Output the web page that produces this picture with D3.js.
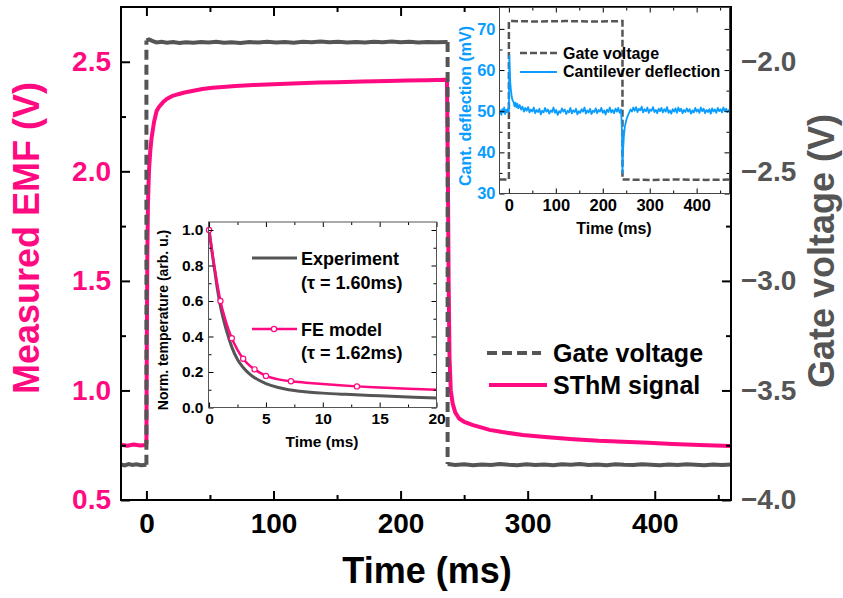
<!DOCTYPE html>
<html>
<head>
<meta charset="utf-8">
<script src="https://cdn.jsdelivr.net/npm/d3@7"></script>
<style>
  body { margin: 0; background: #fff; }
  svg { font-family: "Liberation Sans", Arial, sans-serif; font-weight: bold; }
</style>
</head>
<body>
<svg id="chart" width="843" height="598"></svg>
<script>
// ---- main panel: SThM signal (V) and gate voltage (V) vs time (ms)
const sthmSignal = [
  [-20, 0.752], [-15, 0.748], [-10, 0.753], [-5, 0.749], [-0.3, 0.751],
  [0, 0.76], [0.3, 1.2], [0.7, 1.6], [1.2, 1.85], [2, 2.0], [3, 2.09], [4, 2.15],
  [6, 2.225], [8, 2.275], [10, 2.295], [13, 2.315], [16, 2.33], [20, 2.343],
  [25, 2.352], [30, 2.36], [36, 2.367], [44, 2.376], [52, 2.381], [60, 2.385],
  [70, 2.389], [84, 2.394], [100, 2.398], [115, 2.401], [136, 2.405], [150, 2.407],
  [170, 2.41], [190, 2.412], [205, 2.414], [220, 2.416], [236.5, 2.418],
  [237.2, 2.0], [237.8, 1.5], [238.5, 1.15], [239.5, 1.0], [241, 0.94], [243, 0.9],
  [246, 0.872], [250, 0.857], [257, 0.842], [264, 0.83], [270, 0.82], [280, 0.81],
  [296, 0.797], [316, 0.786], [336, 0.777], [356, 0.77], [375, 0.766], [395, 0.761],
  [414, 0.756], [435, 0.751], [460, 0.746]
];
const gateMain = [
  [-20, -3.838], [-17, -3.842], [-14, -3.836], [-11, -3.840], [-8, -3.837], [-4, -3.841], [0, -3.839],
  [0, -1.903], [2, -1.898], [5, -1.906], [8, -1.912], [12, -1.909], [16, -1.913], [21, -1.910],
  [26, -1.914], [31, -1.911], [37, -1.913], [43, -1.910], [49, -1.912], [55, -1.909], [61, -1.913],
  [67, -1.911], [74, -1.914], [81, -1.910], [88, -1.912], [95, -1.909], [102, -1.912], [109, -1.910],
  [116, -1.913], [123, -1.909], [130, -1.911], [137, -1.908], [144, -1.911], [151, -1.909], [158, -1.912],
  [165, -1.910], [172, -1.912], [179, -1.909], [186, -1.911], [193, -1.908], [200, -1.911], [207, -1.909],
  [214, -1.912], [221, -1.910], [228, -1.911], [237, -1.910],
  [237, -3.836], [243, -3.840], [250, -3.837], [257, -3.841], [264, -3.838], [271, -3.840], [278, -3.836],
  [285, -3.839], [292, -3.841], [299, -3.837], [306, -3.840], [313, -3.838], [320, -3.841], [327, -3.837],
  [334, -3.839], [341, -3.836], [348, -3.840], [355, -3.838], [362, -3.841], [369, -3.837], [376, -3.839],
  [383, -3.840], [390, -3.837], [397, -3.839], [404, -3.841], [411, -3.838], [418, -3.840], [425, -3.837],
  [432, -3.839], [439, -3.841], [446, -3.838], [453, -3.840], [460, -3.838]
];
const timeTicks = [0, 100, 200, 300, 400];
const timeMinor = [50, 150, 250, 350, 450];
const emfTicks = [0.5, 1.0, 1.5, 2.0, 2.5];
const emfMinor = [0.75, 1.25, 1.75, 2.25];
const gateTicks = [-4.0, -3.5, -3.0, -2.5, -2.0];
const gateMinor = [-3.75, -3.25, -2.75, -2.25];
const mainLegend = ['Gate voltage', 'SThM signal'];

// ---- inset 1: normalized temperature decay
const experiment = [
  [0, 1.0], [0.25, 0.88], [0.5, 0.77], [0.75, 0.66], [1, 0.57], [1.5, 0.44], [2, 0.34],
  [2.5, 0.27], [3, 0.225], [3.5, 0.192], [4, 0.168], [5, 0.135], [6, 0.114], [7, 0.1],
  [8, 0.092], [10, 0.081], [12, 0.074], [15, 0.066], [18, 0.058], [20, 0.053]
];
const feModel = [
  [0, 1.0], [0.5, 0.78], [1, 0.6], [1.5, 0.48], [2, 0.39], [2.5, 0.325], [3, 0.275],
  [3.5, 0.24], [4, 0.215], [4.5, 0.195], [5, 0.178], [6, 0.16], [7.2, 0.148], [8.5, 0.14],
  [10, 0.132], [11.5, 0.125], [13, 0.119], [15, 0.113], [17.5, 0.106], [20, 0.1]
];
const feMarkers = [[0, 1.0], [1, 0.6], [2, 0.39], [3, 0.275], [4, 0.215], [5, 0.178], [7.2, 0.148], [13, 0.119]];
const decayTicks = [0, 5, 10, 15, 20];
const decayMinor = [2.5, 7.5, 12.5, 17.5];
const normTicks = [0, 0.2, 0.4, 0.6, 0.8, 1.0];
const normMinor = [0.1, 0.3, 0.5, 0.7, 0.9];
const decayLegend = ['Experiment', '(\u03c4 = 1.60ms)', 'FE model', '(\u03c4 = 1.62ms)'];

// ---- inset 2: cantilever deflection (mV)
const deflection = [
  [-20, 49.4], [-18, 50.2], [-16, 49.1], [-14, 50.5], [-12, 49.7], [-10, 50.9], [-8, 49.3], [-6, 50.3],
  [-4, 49.8], [-2, 50.6], [0, 49.9],
  [0.5, 58], [1, 63.5], [2, 60], [3, 57], [4, 55.5], [6, 53.5], [8, 52.6], [10, 52.2],
  [12, 51.2], [14, 52.1], [16, 51.0], [18, 51.8], [20, 50.7], [23, 51.5], [26, 50.4], [29, 51.1],
  [32, 49.9], [35, 50.8], [38, 50.1], [41, 51.0], [44, 49.7], [47, 50.4], [50, 49.9], [53, 50.9],
  [56, 49.5], [59, 50.3], [62, 49.8], [65, 50.6], [68, 49.2], [71, 50.1], [74, 49.7], [77, 50.8],
  [80, 49.9], [83, 50.4], [86, 49.4], [89, 50.2], [92, 49.8], [95, 50.9], [98, 49.6], [101, 50.3],
  [104, 49.1], [107, 50.0], [110, 49.6], [113, 50.7], [116, 49.9], [119, 50.4], [122, 49.3], [125, 50.1],
  [128, 49.7], [131, 50.8], [134, 49.5], [137, 50.2], [140, 49.8], [143, 50.6], [146, 49.2], [149, 50.0],
  [152, 49.6], [155, 50.5], [158, 49.9], [161, 50.9], [164, 49.4], [167, 50.2], [170, 49.7], [173, 50.6],
  [176, 49.3], [179, 50.1], [182, 49.8], [185, 50.7], [188, 49.5], [191, 50.3], [194, 49.9], [197, 50.8],
  [200, 49.6], [203, 50.2], [206, 49.2], [209, 50.4], [212, 49.8], [215, 50.9], [218, 49.7], [221, 50.3],
  [224, 49.5], [227, 50.6], [230, 49.9], [233, 50.8], [236, 49.6], [239, 50.4], [241, 45], [242, 35],
  [243, 40], [245, 44], [247, 46.2], [250, 47.8], [253, 48.8], [256, 49.6], [259, 50.4], [262, 49.9],
  [265, 50.9], [268, 50.1], [271, 51.0], [274, 49.8], [277, 50.6], [280, 50.2], [283, 51.1], [286, 49.7],
  [289, 50.5], [292, 50.0], [295, 50.9], [298, 49.6], [301, 50.4], [304, 50.1], [307, 51.0], [310, 49.8],
  [313, 50.3], [316, 49.5], [319, 50.6], [322, 50.0], [325, 50.8], [328, 49.7], [331, 50.5], [334, 49.9],
  [337, 51.0], [340, 49.6], [343, 50.2], [346, 49.4], [349, 50.5], [352, 49.9], [355, 50.7], [358, 49.6],
  [361, 50.9], [364, 50.0], [367, 50.6], [370, 49.5], [373, 50.3], [376, 49.8], [379, 50.7], [382, 49.9],
  [385, 50.5], [388, 49.4], [391, 50.2], [394, 49.7], [397, 50.8], [400, 49.9], [403, 50.4], [406, 49.6],
  [409, 50.9], [412, 50.0], [415, 50.6], [418, 49.5], [421, 50.3], [424, 49.8], [427, 50.5], [430, 49.4],
  [433, 50.7], [436, 49.9], [439, 50.4], [442, 49.6], [445, 50.8], [448, 50.0], [451, 50.5], [454, 49.7],
  [457, 50.9], [460, 50.1], [463, 50.6], [466, 49.8], [470, 50.5]
];
const gateInset = [
  [-20, 33.4], [0, 33.4], [0, 71.9], [60, 71.8], [120, 71.9], [180, 71.8], [242, 71.9],
  [242, 33.4], [300, 33.3], [360, 33.4], [420, 33.3], [470, 33.4]
];
const cantTimeTicks = [0, 100, 200, 300, 400];
const cantTimeMinor = [50, 150, 250, 350, 450];
const cantTicks = [30, 40, 50, 60, 70];
const cantMinor = [35, 45, 55, 65];
const cantLegend = ['Gate voltage', 'Cantilever deflection'];

const pink = '#ff0a80', gray = '#555555', blue = '#0a9dff';
const svg = d3.select('#chart');

// draws inward ticks (major with labels, minor without) on one side
const addAxis = (g, axisFn, scale, pos, major, minor, o) => {
    let a = g.append('g').attr('transform', pos)
        .call(axisFn(scale).tickValues(major).tickSize(-o.major).tickPadding(o.pad)
            .tickFormat(o.fmt ? o.fmt : ''));
    a.select('.domain').remove();
    a.selectAll('line').attr('stroke', '#000').attr('stroke-width', o.sw);
    a.selectAll('text').attr('fill', o.color).style('font-size', o.fs + 'px');
    let m = g.append('g').attr('transform', pos)
        .call(axisFn(scale).tickValues(minor).tickSize(-o.minor).tickFormat(''));
    m.select('.domain').remove();
    m.selectAll('line').attr('stroke', '#000').attr('stroke-width', o.sw);
}

const drawFrame = (g, b, sw, color) => {
    g.append('rect')
        .attr('x', b.left).attr('y', b.top)
        .attr('width', b.right - b.left).attr('height', b.bottom - b.top)
        .attr('fill', 'none').attr('stroke', color).attr('stroke-width', sw);
}

// splits a step signal into flat runs (solid) and jumps (dashed)
const splitSteps = (data, jump) => {
    let flat = [], steps = [], run = [data[0]];
    for (let i = 1; i < data.length; i++) {
        if (Math.abs(data[i][1] - data[i - 1][1]) > jump) {
            flat.push(run);
            steps.push([data[i - 1], data[i]]);
            run = [data[i]];
        } else run.push(data[i]);
    }
    flat.push(run);
    return { flat, steps };
}

// ================= main panel
let mb = { left: 121, top: 7, right: 731, bottom: 500 };
let x = d3.scaleLinear().domain([-20, 460]).range([mb.left, mb.right]);
let yL = d3.scaleLinear().domain([0.5, 2.75]).range([mb.bottom, mb.top]);
let yR = d3.scaleLinear().domain([-4.0, -1.75]).range([mb.bottom, mb.top]);
let g = svg.append('g');

g.append('path')
    .datum(sthmSignal)
    .attr('fill', 'none').attr('stroke', pink).attr('stroke-width', 4)
    .attr('stroke-linejoin', 'round')
    .attr('d', d3.line().x(d => x(d[0])).y(d => yL(d[1])));

let gateLine = d3.line().x(d => x(d[0])).y(d => yR(d[1]));
let gs = splitSteps(gateMain, 0.5);
gs.flat.forEach(run => {
    g.append('path').datum(run)
        .attr('fill', 'none').attr('stroke', gray).attr('stroke-width', 4)
        .attr('d', gateLine);
});
gs.steps.forEach(st => {
    g.append('path').datum(st)
        .attr('fill', 'none').attr('stroke', gray).attr('stroke-width', 4)
        .attr('stroke-dasharray', '10,5')
        .attr('d', gateLine);
});

addAxis(g, d3.axisBottom, x, 'translate(0,' + mb.bottom + ')', timeTicks, timeMinor,
    { major: 9, minor: 5, pad: 13, sw: 2, fs: 28, color: '#000', fmt: d3.format('d') });
addAxis(g, d3.axisTop, x, 'translate(0,' + mb.top + ')', timeTicks, timeMinor,
    { major: 9, minor: 5, pad: 0, sw: 2, fs: 28, color: '#000' });
addAxis(g, d3.axisLeft, yL, 'translate(' + mb.left + ',0)', emfTicks, emfMinor,
    { major: 9, minor: 5, pad: 10, sw: 2, fs: 28, color: pink, fmt: d3.format('.1f') });
addAxis(g, d3.axisRight, yR, 'translate(' + mb.right + ',0)', gateTicks, gateMinor,
    { major: 9, minor: 5, pad: 10, sw: 2, fs: 28, color: gray, fmt: d3.format('.1f') });
drawFrame(g, mb, 2, '#000');

g.append('text')
    .attr('transform', 'translate(' + ((mb.left + mb.right) / 2 + 1) + ',583)')
    .attr('text-anchor', 'middle').attr('fill', '#000').style('font-size', '36px')
    .text('Time (ms)');
g.append('text')
    .attr('transform', 'translate(39,238) rotate(-90)')
    .attr('text-anchor', 'middle').attr('fill', pink).style('font-size', '36px')
    .text('Measured EMF (V)');
g.append('text')
    .attr('transform', 'translate(834,251) rotate(-90)')
    .attr('text-anchor', 'middle').attr('fill', gray).style('font-size', '36px')
    .text('Gate voltage (V)');

// main legend
g.append('line')
    .attr('x1', 487).attr('x2', 541).attr('y1', 353).attr('y2', 353)
    .attr('stroke', gray).attr('stroke-width', 4).attr('stroke-dasharray', '10,5');
g.append('line')
    .attr('x1', 489).attr('x2', 547).attr('y1', 385).attr('y2', 385)
    .attr('stroke', pink).attr('stroke-width', 4);
g.selectAll('.mleg').data(mainLegend).enter().append('text')
    .attr('x', 553).attr('y', (d, i) => i == 0 ? 362 : 394)
    .attr('fill', '#000').style('font-size', '25px')
    .text(d => d);

// ================= inset 1 (decay)
let ib = { left: 208.5, top: 222, right: 436.5, bottom: 407.5 };
let x1 = d3.scaleLinear().domain([-0.05, 20]).range([ib.left, ib.right]);
let y1 = d3.scaleLinear().domain([0, 1.045]).range([ib.bottom, ib.top]);
let g1 = svg.append('g');
g1.append('rect')
    .attr('x', ib.left).attr('y', ib.top)
    .attr('width', ib.right - ib.left).attr('height', ib.bottom - ib.top)
    .attr('fill', '#fff');

g1.append('path')
    .datum(experiment)
    .attr('fill', 'none').attr('stroke', gray).attr('stroke-width', 3)
    .attr('d', d3.line().curve(d3.curveMonotoneX).x(d => x1(d[0])).y(d => y1(d[1])));
g1.append('path')
    .datum(feModel)
    .attr('fill', 'none').attr('stroke', pink).attr('stroke-width', 2.5)
    .attr('d', d3.line().curve(d3.curveMonotoneX).x(d => x1(d[0])).y(d => y1(d[1])));
g1.selectAll('.fem').data(feMarkers).enter().append('circle')
    .attr('cx', d => x1(d[0])).attr('cy', d => y1(d[1])).attr('r', 2.6)
    .attr('fill', '#fff').attr('stroke', pink).attr('stroke-width', 1.2);

addAxis(g1, d3.axisBottom, x1, 'translate(0,' + ib.bottom + ')', decayTicks, decayMinor,
    { major: 5, minor: 3, pad: 5, sw: 1, fs: 15.5, color: '#000', fmt: d3.format('d') });
addAxis(g1, d3.axisTop, x1, 'translate(0,' + ib.top + ')', decayTicks, decayMinor,
    { major: 5, minor: 3, pad: 0, sw: 1, fs: 15.5, color: '#000' });
addAxis(g1, d3.axisLeft, y1, 'translate(' + ib.left + ',0)', normTicks, normMinor,
    { major: 5, minor: 3, pad: 5, sw: 1, fs: 15.5, color: '#000', fmt: d3.format('.1f') });
addAxis(g1, d3.axisRight, y1, 'translate(' + ib.right + ',0)', normTicks, normMinor,
    { major: 5, minor: 3, pad: 0, sw: 1, fs: 15.5, color: '#000' });
drawFrame(g1, ib, 1, '#555');

g1.append('text')
    .attr('transform', 'translate(322,447)')
    .attr('text-anchor', 'middle').attr('fill', '#000').style('font-size', '15.5px')
    .text('Time (ms)');
g1.append('text')
    .attr('transform', 'translate(168,320) rotate(-90)')
    .attr('text-anchor', 'middle').attr('fill', '#000').style('font-size', '14px')
    .text('Norm. temperature (arb. u.)');

g1.append('line')
    .attr('x1', 252).attr('x2', 297).attr('y1', 258).attr('y2', 258)
    .attr('stroke', gray).attr('stroke-width', 3);
g1.append('line')
    .attr('x1', 252).attr('x2', 297).attr('y1', 329).attr('y2', 329)
    .attr('stroke', pink).attr('stroke-width', 2.5);
g1.append('circle')
    .attr('cx', 274).attr('cy', 329).attr('r', 2.6)
    .attr('fill', '#fff').attr('stroke', pink).attr('stroke-width', 1.2);
g1.selectAll('.dleg').data(decayLegend).enter().append('text')
    .attr('x', 301).attr('y', (d, i) => [265, 289, 336, 359][i])
    .attr('fill', '#000').style('font-size', '18px')
    .text(d => d);

// ================= inset 2 (cantilever)
let cb = { left: 499.5, top: 7.5, right: 729.5, bottom: 193.5 };
let x2 = d3.scaleLinear().domain([-20, 470]).range([cb.left, cb.right]);
let y2 = d3.scaleLinear().domain([30, 75.2]).range([cb.bottom, cb.top]);
let g2 = svg.append('g');
g2.append('rect')
    .attr('x', cb.left).attr('y', cb.top)
    .attr('width', cb.right - cb.left).attr('height', cb.bottom - cb.top)
    .attr('fill', '#fff');

g2.append('path')
    .datum(gateInset)
    .attr('fill', 'none').attr('stroke', gray).attr('stroke-width', 2.5)
    .attr('stroke-dasharray', '7,3')
    .attr('d', d3.line().x(d => x2(d[0])).y(d => y2(d[1])));
g2.append('path')
    .datum(deflection)
    .attr('fill', 'none').attr('stroke', blue).attr('stroke-width', 1.8)
    .attr('stroke-linejoin', 'round')
    .attr('d', d3.line().x(d => x2(d[0])).y(d => y2(d[1])));

addAxis(g2, d3.axisBottom, x2, 'translate(0,' + cb.bottom + ')', cantTimeTicks, cantTimeMinor,
    { major: 5, minor: 3, pad: 6, sw: 1, fs: 16.5, color: '#000', fmt: d3.format('d') });
addAxis(g2, d3.axisTop, x2, 'translate(0,' + cb.top + ')', cantTimeTicks, cantTimeMinor,
    { major: 5, minor: 3, pad: 0, sw: 1, fs: 16.5, color: '#000' });
addAxis(g2, d3.axisLeft, y2, 'translate(' + cb.left + ',0)', cantTicks, cantMinor,
    { major: 5, minor: 3, pad: 4, sw: 1, fs: 16.5, color: blue, fmt: d3.format('d') });
addAxis(g2, d3.axisRight, y2, 'translate(' + cb.right + ',0)', cantTicks, cantMinor,
    { major: 5, minor: 3, pad: 0, sw: 1, fs: 16.5, color: '#000' });
drawFrame(g2, cb, 1, '#444');

g2.append('text')
    .attr('transform', 'translate(614,234)')
    .attr('text-anchor', 'middle').attr('fill', '#000').style('font-size', '16px')
    .text('Time (ms)');
g2.append('text')
    .attr('transform', 'translate(471,106) rotate(-90)')
    .attr('text-anchor', 'middle').attr('fill', blue).style('font-size', '16px')
    .text('Cant. deflection (mV)');

g2.append('line')
    .attr('x1', 520).attr('x2', 557).attr('y1', 53).attr('y2', 53)
    .attr('stroke', gray).attr('stroke-width', 2.5).attr('stroke-dasharray', '7,3');
g2.append('line')
    .attr('x1', 520).attr('x2', 557).attr('y1', 72).attr('y2', 72)
    .attr('stroke', blue).attr('stroke-width', 2);
g2.selectAll('.cleg').data(cantLegend).enter().append('text')
    .attr('x', 563).attr('y', (d, i) => i == 0 ? 58.5 : 77)
    .attr('fill', '#000').style('font-size', '16px')
    .text(d => d);
</script>
</body>
</html>
